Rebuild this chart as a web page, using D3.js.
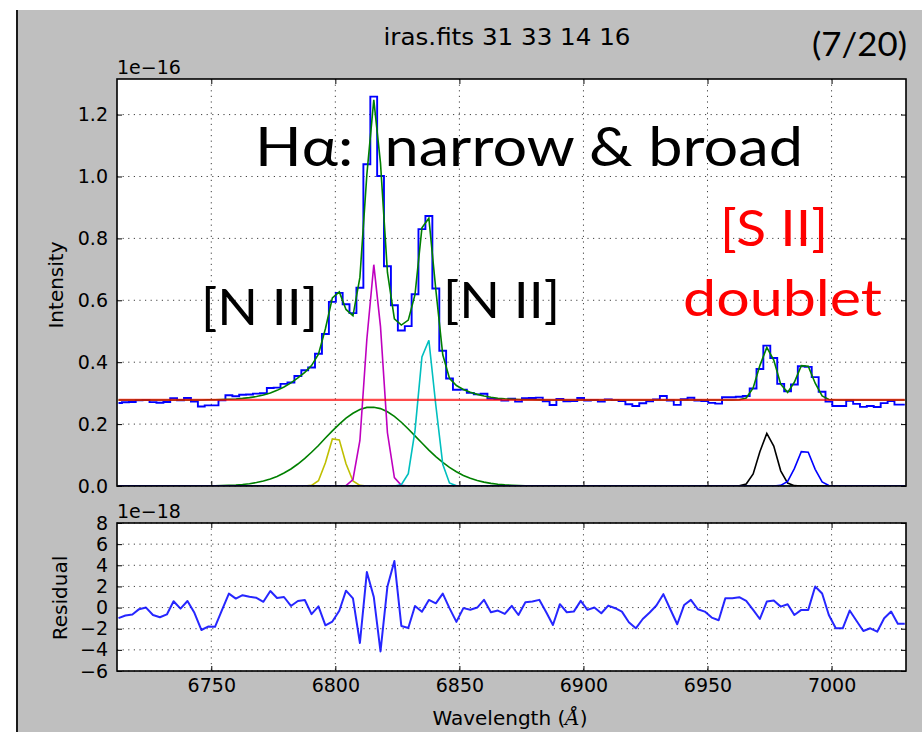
<!DOCTYPE html>
<html><head><meta charset="utf-8">
<script src="https://cdn.jsdelivr.net/npm/d3@7"></script>
<style>body{margin:0;background:#fff;} svg{display:block;}</style>
</head><body><svg id="c" width="922" height="739"></svg>
<script>
// ---------------- data ----------------
const wavelength = [6712.6,6715.4,6718.2,6720.9,6723.7,6726.5,6729.3,6732.1,6734.8,6737.6,
6740.4,6743.2,6746.0,6748.7,6751.5,6754.3,6757.1,6759.9,6762.6,6765.4,
6768.2,6771.0,6773.8,6776.5,6779.3,6782.1,6784.9,6787.7,6790.4,6793.2,
6796.0,6798.8,6801.6,6804.3,6807.1,6809.9,6812.7,6815.5,6818.2,6821.0,
6823.8,6826.6,6829.4,6832.1,6834.9,6837.7,6840.5,6843.3,6846.0,6848.8,
6851.6,6854.4,6857.2,6859.9,6862.7,6865.5,6868.3,6871.1,6873.8,6876.6,
6879.4,6882.2,6885.0,6887.7,6890.5,6893.3,6896.1,6898.9,6901.6,6904.4,
6907.2,6910.0,6912.8,6915.5,6918.3,6921.1,6923.9,6926.7,6929.4,6932.2,
6935.0,6937.8,6940.6,6943.3,6946.1,6948.9,6951.7,6954.5,6957.2,6960.0,
6962.8,6965.6,6968.4,6971.1,6973.9,6976.7,6979.5,6982.3,6985.0,6987.8,
6990.6,6993.4,6996.2,6998.9,7001.7,7004.5,7007.3,7010.1,7012.8,7015.6,
7018.4,7021.2,7024.0,7026.7,7029.5];

// observed intensity (1e-16)
const flux = [0.268,0.2705,0.2715,0.2765,0.278,0.271,0.2688,0.2715,0.284,0.277,
0.2842,0.273,0.2568,0.2605,0.2606,0.2768,0.2933,0.2898,0.2947,0.2957,
0.2983,0.2995,0.3164,0.318,0.33,0.3345,0.3552,0.3742,0.3828,0.4272,
0.4912,0.5948,0.624,0.587,0.5587,0.6405,1.0396,1.258,1.0015,0.71,
0.584,0.5026,0.5166,0.6195,0.83,0.8722,0.638,0.4372,0.3475,0.311,
0.3115,0.301,0.296,0.2979,0.2822,0.2809,0.2757,0.282,0.2725,0.284,
0.2842,0.2856,0.2736,0.2615,0.2812,0.2736,0.2742,0.2843,0.2758,0.278,
0.2726,0.2799,0.2774,0.2742,0.2641,0.2584,0.2672,0.2733,0.2799,0.2907,
0.2764,0.2622,0.2805,0.2853,0.2764,0.2742,0.2685,0.266,0.2869,0.2869,
0.2884,0.2908,0.3148,0.3782,0.4537,0.4136,0.3299,0.3057,0.3281,0.3868,
0.3848,0.3519,0.3043,0.2725,0.2584,0.2584,0.2752,0.2653,0.2558,0.2584,
0.2552,0.2679,0.2742,0.2628,0.2628];

// total fitted model (1e-16)
const model = [0.278,0.278,0.278,0.278,0.278,0.278,0.278,0.278,0.278,0.278,
0.278,0.278,0.278,0.2785,0.2788,0.2793,0.2801,0.2813,0.283,0.2855,
0.2891,0.294,0.3007,0.309,0.32,0.333,0.349,0.367,0.389,0.426,
0.508,0.608,0.627,0.5705,0.55,0.674,1.006,1.2476,1.043,0.69,
0.54,0.52,0.536,0.618,0.834,0.865,0.634,0.424,0.348,0.3245,
0.312,0.303,0.296,0.2906,0.2866,0.2837,0.2817,0.2804,0.2795,0.2789,
0.2785,0.2783,0.278,0.278,0.278,0.278,0.278,0.278,0.278,0.278,
0.278,0.278,0.278,0.278,0.278,0.278,0.278,0.278,0.278,0.278,
0.278,0.278,0.278,0.278,0.278,0.278,0.278,0.278,0.278,0.278,
0.2786,0.2845,0.317,0.389,0.448,0.407,0.329,0.3025,0.3351,0.389,
0.387,0.332,0.291,0.2795,0.278,0.278,0.278,0.278,0.278,0.278,
0.278,0.278,0.278,0.278,0.278];

// residual (1e-18)
const residual = [-1.0,-0.75,-0.65,-0.15,0.0,-0.7,-0.92,-0.65,0.6,-0.1,
0.62,-0.5,-2.12,-1.8,-1.82,-0.25,1.32,0.85,1.17,1.02,
0.92,0.55,1.57,0.9,1.0,0.15,0.62,0.72,-0.62,0.12,
-1.68,-1.32,-0.3,1.6,0.87,-3.35,3.36,1.0,-4.15,2.0,
4.4,-1.74,-1.94,0.15,-0.4,0.72,0.4,1.32,-0.05,-1.35,
-0.05,-0.2,0.0,0.73,-0.44,-0.28,-0.6,0.16,-0.7,0.51,
0.57,0.73,-0.44,-1.65,0.32,-0.44,-0.38,0.63,-0.22,0.0,
-0.54,0.19,-0.06,-0.38,-1.39,-1.96,-1.08,-0.47,0.19,1.27,
-0.16,-1.58,0.25,0.73,-0.16,-0.38,-0.95,-1.2,0.89,0.89,
0.98,0.63,-0.22,-1.08,0.57,0.66,0.09,0.32,-0.7,-0.22,
-0.22,1.99,1.33,-0.7,-1.96,-1.96,-0.28,-1.27,-2.22,-1.96,
-2.28,-1.01,-0.38,-1.52,-1.52];

const continuumLevel = 0.278;

// fitted components: first index on the wavelength grid, then values (zero elsewhere)
const broadStart = 11;
const broadHa = [0.0002,0.0003,0.0005,0.0008,0.0013,0.0021,0.0033,0.005,0.0075,0.0111,
0.016,0.0227,0.031,0.042,0.055,0.071,0.089,0.109,0.131,0.155,
0.178,0.2,0.219,0.235,0.247,0.254,0.2546,0.25,0.24,0.225,
0.206,0.184,0.162,0.139,0.116,0.095,0.076,0.06,0.046,0.034,
0.025,0.018,0.0126,0.0086,0.0057,0.0037,0.0024,0.0015,0.0009,0.0005,0.0003];
const nii6548Start = 28;
const nii6548 = [0.002,0.017,0.075,0.152,0.149,0.072,0.016,0.002];
const haNarrowStart = 33;
const haNarrow = [0.0015,0.021,0.147,0.474,0.715,0.515,0.172,0.027,0.002];
const nii6583Start = 41;
const nii6583 = [0.004,0.04,0.178,0.417,0.471,0.261,0.07,0.01,0.0005];
const sii6716Start = 90;
const sii6716 = [0.0006,0.0065,0.039,0.111,0.17,0.129,0.049,0.0095,0.0011];
const sii6731Start = 96;
const sii6731 = [0.002,0.015,0.056,0.111,0.109,0.054,0.013,0.0015];

const xTicks = [6750,6800,6850,6900,6950,7000];
const yTicksMain = [0.0,0.2,0.4,0.6,0.8,1.0,1.2];
const yTicksRes = [-6,-4,-2,0,2,4,6,8];

const titleText = "iras.fits 31 33 14 16";
const pageText = "(7/20)";

// ---------------- drawing ----------------
const svg = d3.select("#c");
svg.append("rect").attr("width",922).attr("height",739).attr("fill","#fff");
svg.append("rect").attr("x",18).attr("y",10).attr("width",904).attr("height",722).attr("fill","#bfbfbf");
svg.append("line").attr("x1",17).attr("x2",17).attr("y1",10).attr("y2",732)
  .attr("stroke","#1a1a1a").attr("stroke-width",2);

const FONT = "'DejaVu Sans', sans-serif";
const M = {l:117, r:906, t:79, b:486};
const R = {t:523, b:671};

const x = d3.scaleLinear().domain([6712,7030]).range([M.l,M.r]);
const y = d3.scaleLinear().domain([0,1.315]).range([M.b,M.t]);
const yr = d3.scaleLinear().domain([-6,8]).range([R.b,R.t]);

const full = (start, vals) => wavelength.map((w,i)=> (i>=start && i<start+vals.length) ? vals[i-start] : 0);

function panel(top, bottom, ys, yticks, id){
  svg.append("rect").attr("x",M.l).attr("y",top).attr("width",M.r-M.l).attr("height",bottom-top).attr("fill","#fff");
  svg.append("clipPath").attr("id",id).append("rect")
    .attr("x",M.l).attr("y",top).attr("width",M.r-M.l).attr("height",bottom-top);
  const g = svg.append("g");
  g.selectAll(".gx").data(xTicks).enter().append("line")
    .attr("x1",d=>x(d)).attr("x2",d=>x(d)).attr("y1",top).attr("y2",bottom)
    .attr("stroke","#000").attr("stroke-opacity",0.75).attr("stroke-width",1).attr("stroke-dasharray","1.2,4.4");
  g.selectAll(".gy").data(yticks).enter().append("line")
    .attr("x1",M.l).attr("x2",M.r).attr("y1",d=>ys(d)).attr("y2",d=>ys(d))
    .attr("stroke","#000").attr("stroke-opacity",0.75).attr("stroke-width",1).attr("stroke-dasharray","1.2,4.4");
  return svg.append("g").attr("clip-path",`url(#${id})`);
}

function frame(top, bottom, ys, yticks, fmt, showX){
  const tickStyle = sel => { sel.select(".domain").remove();
    sel.selectAll(".tick line").attr("stroke","#000").attr("stroke-width",1);
    sel.selectAll("text").attr("font-family",FONT).attr("font-size",19).attr("fill","#000"); };
  svg.append("g").attr("transform",`translate(${M.l},0)`)
    .call(d3.axisLeft(ys).tickValues(yticks).tickFormat(fmt).tickSize(-5).tickPadding(9)).call(tickStyle);
  svg.append("g").attr("transform",`translate(${M.r},0)`)
    .call(d3.axisRight(ys).tickValues(yticks).tickFormat("").tickSize(-5)).call(tickStyle);
  svg.append("g").attr("transform",`translate(0,${top})`)
    .call(d3.axisTop(x).tickValues(xTicks).tickFormat("").tickSize(-5)).call(tickStyle);
  svg.append("g").attr("transform",`translate(0,${bottom})`)
    .call(d3.axisBottom(x).tickValues(xTicks).tickFormat(showX ? d3.format("d") : "").tickSize(-5).tickPadding(7.5)).call(tickStyle);
  svg.append("rect").attr("x",M.l).attr("y",top).attr("width",M.r-M.l).attr("height",bottom-top)
    .attr("fill","none").attr("stroke","#000").attr("stroke-width",1.6);
}

// main panel
const gm = panel(M.t, M.b, y, yTicksMain, "clipM");
const stepLine = d3.line().x((d,i)=>x(wavelength[i])).y(d=>y(d)).curve(d3.curveStep);
const lin = d3.line().x((d,i)=>x(wavelength[i])).y(d=>y(d));

gm.append("path").attr("d",stepLine(flux)).attr("fill","none").attr("stroke","#0000ff").attr("stroke-width",1.9);
gm.append("path").attr("d",lin(model)).attr("fill","none").attr("stroke","#008000").attr("stroke-width",1.6);

const comps = [
  [full(broadStart,broadHa), "#008000"],
  [full(nii6548Start,nii6548), "#bfbf00"],
  [full(haNarrowStart,haNarrow), "#bf00bf"],
  [full(nii6583Start,nii6583), "#00bfbf"],
  [full(sii6716Start,sii6716), "#000000"],
  [full(sii6731Start,sii6731), "#0000ff"]
];
comps.forEach(([vals,col])=>{
  gm.append("path").attr("d",lin(vals)).attr("fill","none").attr("stroke",col).attr("stroke-width",1.6);
});
gm.append("path").attr("d",lin(wavelength.map(()=>continuumLevel)))
  .attr("fill","none").attr("stroke","#ff0000").attr("stroke-opacity",0.7).attr("stroke-width",2.2);

frame(M.t, M.b, y, yTicksMain, d3.format(".1f"), false);

// residual panel
const gr = panel(R.t, R.b, yr, yTicksRes, "clipR");
const linR = d3.line().x((d,i)=>x(wavelength[i])).y(d=>yr(d));
gr.append("path").attr("d",linR(residual)).attr("fill","none").attr("stroke","#0000ff").attr("stroke-opacity",0.85).attr("stroke-width",2)
  .attr("stroke-linejoin","round");
frame(R.t, R.b, yr, yTicksRes, d3.format("d"), true);

// texts
const T = (txt, xx, yy, size, opts={}) => {
  const t = svg.append("text").attr("x",xx).attr("y",yy).attr("font-size",size)
    .attr("font-family",opts.family||FONT).attr("fill",opts.fill||"#000")
    .attr("text-anchor",opts.anchor||"start").style("white-space","pre").text(txt);
  if (opts.rotate) t.attr("transform",`rotate(-90 ${xx} ${yy})`);
  if (opts.width) t.attr("textLength",opts.width).attr("lengthAdjust","spacingAndGlyphs");
  return t;
};
T(titleText, 507, 45, 23, {anchor:"middle", width:247});
T("1e\u221216", 117, 74, 19);
T("1e\u221218", 117, 518, 19);
T("Intensity", 63, 285, 20, {anchor:"middle", rotate:true});
T("Residual", 67, 598, 20, {anchor:"middle", rotate:true});
const wl = T("Wavelength (", 510, 725, 20, {anchor:"middle"});
wl.append("tspan").attr("font-style","italic").attr("font-family","'DejaVu Serif', serif").text("Å");
wl.append("tspan").text(")");

const SLIDE = "Lato, 'Open Sans', sans-serif";
T(pageText, 812, 56, 32, {family:SLIDE, width:95});
T("H\u03b1:  narrow & broad", 255, 166, 55, {family:SLIDE, width:548});
T("[N II]", 201, 325, 51, {family:SLIDE, width:117});
T("[N II]", 443, 318, 51, {family:SLIDE, width:117});
T("[S II]", 720, 246, 51, {family:SLIDE, width:108, fill:"#ff0000"});
T("doublet", 683, 316, 51, {family:SLIDE, width:199, fill:"#ff0000"});
</script></body></html>
